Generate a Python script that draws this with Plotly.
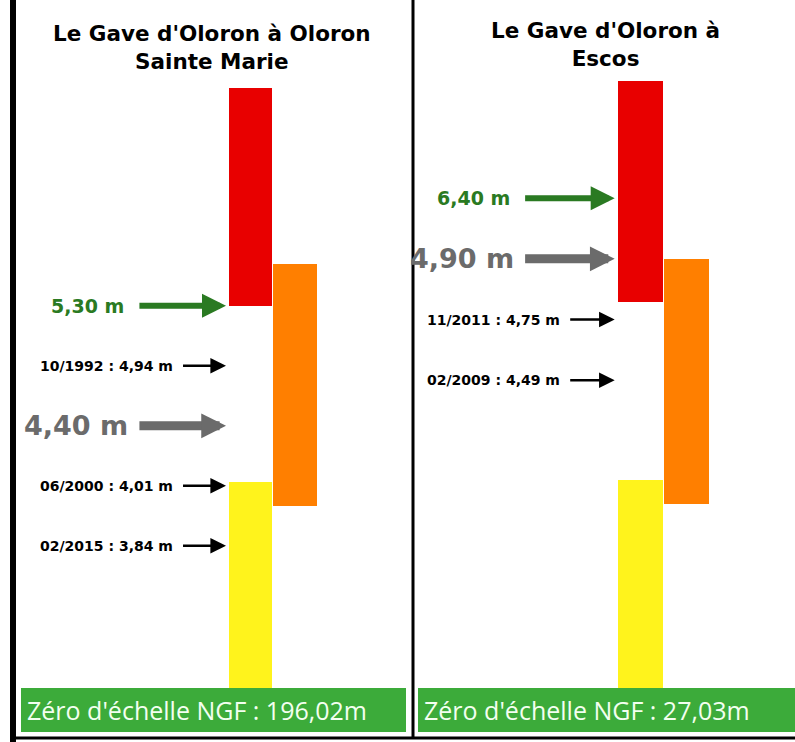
import plotly.graph_objects as go

# ---- stations -------------------------------------------------------------
station_names = ["Le Gave d'Oloron à Oloron<br>Sainte Marie", "Le Gave d'Oloron à<br>Escos"]
zero_ngf = [196.02, 27.03]  # zéro d'échelle (m NGF)

# ---- repères, listed from the highest to the lowest ------------------------
oloron_dates = [None, "10/1992", None, "06/2000", "02/2015"]
oloron_levels = [5.30, 4.94, 4.40, 4.01, 3.84]
oloron_kinds = ["alerte", "crue", "vigilance", "crue", "crue"]

escos_dates = [None, None, "11/2011", "02/2009"]
escos_levels = [6.40, 4.90, 4.75, 4.49]
escos_kinds = ["alerte", "vigilance", "crue", "crue"]

# ---- vigilance bands of the schematic gauge (gauge units, 0 = foot) --------
band_names = ["jaune", "orange", "rouge"]
band_column = [0, 1, 0]
band_low = [0.0, 3.03, 6.36]
band_high = [3.43, 7.07, 10.0]

# ---- styles -----------------------------------------------------------------
W, H = 795, 742
BAND_COLORS = {"jaune": "#fff31c", "orange": "#ff7f00", "rouge": "#e80000"}
KIND_STYLE = {
    "alerte":    dict(color="#2a7a22", size=19, width=6,   head=0.8,  tail=-2.53, gap=12),
    "vigilance": dict(color="#6b6b6b", size=27, width=9,   head=0.55, tail=-2.53, gap=8),
    "crue":      dict(color="#000000", size=14, width=2.5, head=1.25, tail=-1.55, gap=7),
}
LABEL_FONT = "DejaVu Sans, Verdana, sans-serif"
BANNER_FONT = "Open Sans, Noto Sans, sans-serif"
BANNER_GREEN = "#3cab3a"

# per panel layout: pixel geometry of the gauge
banner_top_px = 688
px_per_unit = [60.0, 60.7]          # vertical scale of each gauge
col_center_px = [250.5, 640.0]      # centre of the first gauge column
col_width_px = [44.5, 46.0]         # width of one column
first_slot = [6.37, 8.07]           # gauge level of the topmost repère
slot_step = 1.0
tip_x = -0.55                       # arrows stop just before the column


def fmt(v):
    return f"{v:.2f}".replace(".", ",")


panels = [
    (oloron_dates, oloron_levels, oloron_kinds),
    (escos_dates, escos_levels, escos_kinds),
]

fig = go.Figure()
annotations = []
shapes = []
layout_axes = {}

for p, (dates, levels, kinds) in enumerate(panels):
    sfx = "" if p == 0 else str(p + 1)
    xref, yref = "x" + sfx, "y" + sfx

    # axes: each panel occupies half of the page width
    d0, d1 = p * 0.5, (p + 1) * 0.5
    span_units = (d1 - d0) * W / col_width_px[p]
    r0 = -(col_center_px[p] - d0 * W) / col_width_px[p]
    layout_axes["xaxis" + sfx] = dict(domain=[d0, d1], range=[r0, r0 + span_units],
                                      visible=False, fixedrange=True)
    layout_axes["yaxis" + sfx] = dict(domain=[(H - banner_top_px) / H, 1],
                                      range=[0, banner_top_px / px_per_unit[p]],
                                      visible=False, fixedrange=True)

    # vigilance bands
    fig.add_trace(go.Bar(
        x=band_column,
        y=[h - l for l, h in zip(band_low, band_high)],
        base=band_low,
        width=0.97,
        marker=dict(color=[BAND_COLORS[b] for b in band_names], line=dict(width=0)),
        xaxis=xref, yaxis=yref,
        hovertext=band_names, hoverinfo="text",
        showlegend=False,
    ))

    # repères: arrows ranked by level
    order = sorted(range(len(levels)), key=lambda i: -levels[i])
    for rank, i in enumerate(order):
        st = KIND_STYLE[kinds[i]]
        y = first_slot[p] - rank * slot_step
        annotations.append(dict(
            x=tip_x, y=y, ax=st["tail"], ay=y,
            xref=xref, yref=yref, axref=xref, ayref=yref,
            text="", showarrow=True, arrowhead=2,
            arrowwidth=st["width"], arrowsize=st["head"], arrowcolor=st["color"],
            standoff=0,
        ))
        label = f"{fmt(levels[i])} m"
        if dates[i]:
            label = f"{dates[i]} : {label}"
        annotations.append(dict(
            x=st["tail"], y=y, xref=xref, yref=yref,
            xanchor="right", yanchor="middle", xshift=-st["gap"],
            text=label, showarrow=False,
            font=dict(family=LABEL_FONT, size=st["size"], color=st["color"], weight="bold"),
        ))

# titles
title_pos = [(212, 47), (605, 44)]
for name, (cx, cy) in zip(station_names, title_pos):
    annotations.append(dict(
        x=cx / W, y=(H - cy) / H, xref="paper", yref="paper",
        xanchor="center", yanchor="middle", text=name, showarrow=False,
        font=dict(family=LABEL_FONT, size=21.5, color="#000000", weight="bold"),
    ))

# green banners with the gauge zero
banner_x = [(21, 406), (418, 795)]
banner_y = (688, 732)
text_x = [25, 422]
for z, (bx0, bx1), tx in zip(zero_ngf, banner_x, text_x):
    shapes.append(dict(type="rect", xref="paper", yref="paper",
                       x0=bx0 / W, x1=bx1 / W,
                       y0=(H - banner_y[1]) / H, y1=(H - banner_y[0]) / H,
                       fillcolor=BANNER_GREEN, line=dict(width=0)))
    annotations.append(dict(
        x=tx / W, y=(H - (banner_y[0] + banner_y[1]) / 2) / H,
        xref="paper", yref="paper", xanchor="left", yanchor="middle",
        text=f"Zéro d'échelle NGF : {fmt(z)}m", showarrow=False,
        font=dict(family=BANNER_FONT, size=25, color="#f3fff0"),
    ))

# panel frame
frame = dict(xref="paper", yref="paper", type="line")
shapes += [
    dict(frame, x0=13 / W, x1=13 / W, y0=0, y1=1, line=dict(color="#000", width=6)),
    dict(frame, x0=413 / W, x1=413 / W, y0=(H - 738) / H, y1=1, line=dict(color="#000", width=3)),
    dict(frame, x0=10 / W, x1=1, y0=(H - 738) / H, y1=(H - 738) / H, line=dict(color="#000", width=3)),
]

fig.update_layout(
    width=W, height=H,
    margin=dict(l=0, r=0, t=0, b=0),
    paper_bgcolor="#ffffff", plot_bgcolor="rgba(0,0,0,0)",
    barmode="overlay", bargap=0,
    showlegend=False,
    annotations=annotations,
    shapes=shapes,
    **layout_axes,
)

fig.write_html("out.html", config={"displayModeBar": False})
